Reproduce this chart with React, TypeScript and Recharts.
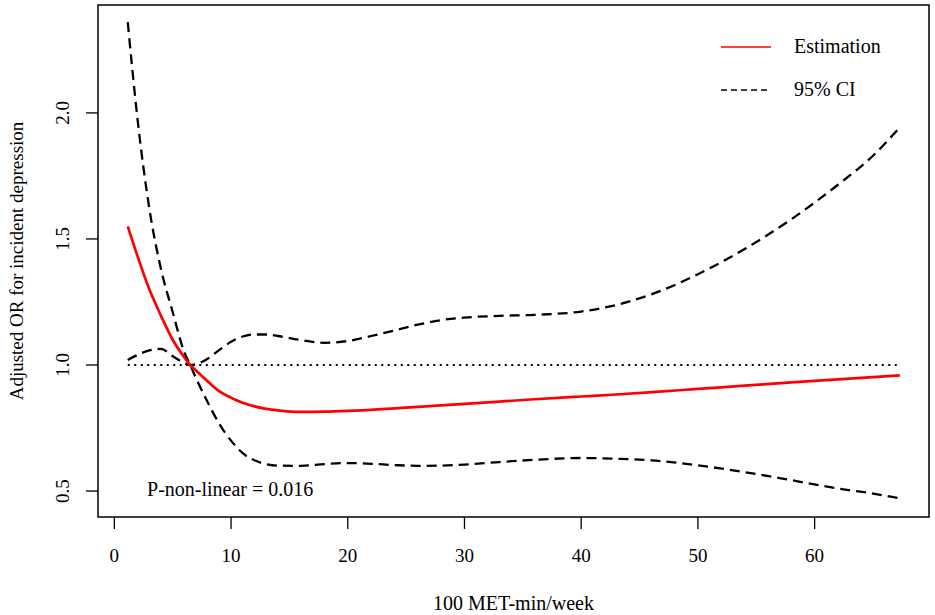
import React from 'react';
import {
  LineChart,
  Line,
  XAxis,
  YAxis,
  ReferenceLine,
  ReferenceArea,
  ReferenceDot,
  Label,
} from 'recharts';

// 100 MET-min/week
const xs = [1.15, 2, 3, 4, 5, 6, 6.5, 7, 8, 9, 10, 11, 12, 13, 14, 16, 18, 20, 22, 24, 26, 28, 30, 33, 36, 40, 43, 46, 50, 54, 58, 62, 65, 67.3];
const estimation = [1.55, 1.43, 1.3, 1.195, 1.1, 1.03, 1.0, 0.978, 0.935, 0.895, 0.87, 0.85, 0.836, 0.826, 0.82, 0.814, 0.815, 0.818, 0.822, 0.828, 0.834, 0.84, 0.846, 0.855, 0.864, 0.875, 0.883, 0.892, 0.905, 0.918, 0.931, 0.943, 0.952, 0.959];
const ciA = [2.36, 1.97, 1.62, 1.38, 1.21, 1.05, 1.0, 0.948, 0.852, 0.766, 0.7, 0.65, 0.622, 0.607, 0.601, 0.6, 0.607, 0.611, 0.608, 0.603, 0.6, 0.601, 0.605, 0.615, 0.624, 0.631, 0.628, 0.622, 0.602, 0.575, 0.543, 0.51, 0.49, 0.471];
const ciB = [1.02, 1.04, 1.058, 1.064, 1.035, 1.008, 1.0, 1.003, 1.025, 1.06, 1.092, 1.113, 1.121, 1.121, 1.115, 1.099, 1.088, 1.095, 1.115, 1.137, 1.16, 1.178, 1.188, 1.195, 1.199, 1.212, 1.238, 1.28, 1.36, 1.46, 1.578, 1.715, 1.83, 1.943];

const xTicks = [0, 10, 20, 30, 40, 50, 60];
const yTicks = [0.5, 1.0, 1.5, 2.0];
const xDomain: [number, number] = [-1.4, 69.8];
const yDomain: [number, number] = [0.397, 2.428];

const data = xs.map((x, i) => ({ x, est: estimation[i], lo: ciA[i], hi: ciB[i] }));

const FONT = '"Liberation Serif", "Times New Roman", serif';

const XTick = ({ x, y, payload }: any) => (
  <text x={x} y={y + 18} textAnchor="middle" dominantBaseline="central" fontSize={19} fontFamily={FONT} fill="#000">
    {payload.value}
  </text>
);

const YTick = ({ x, y, payload }: any) => (
  <text
    x={x - 15}
    y={y}
    textAnchor="middle"
    dominantBaseline="central"
    fontSize={19}
    fontFamily={FONT}
    fill="#000"
    transform={`rotate(-90, ${x - 15}, ${y})`}
  >
    {Number(payload.value).toFixed(1)}
  </text>
);

const LegendBox = () => (
  <div style={{ position: 'absolute', left: 721, top: 25, fontFamily: FONT, fontSize: 20, color: '#000' }}>
    <div style={{ display: 'flex', alignItems: 'center', height: 43 }}>
      <svg width={50} height={10} style={{ marginRight: 23 }}>
        <line x1={0} y1={5} x2={50} y2={5} stroke="#ff0000" strokeWidth={1.5} />
      </svg>
      <span>Estimation</span>
    </div>
    <div style={{ display: 'flex', alignItems: 'center', height: 43 }}>
      <svg width={50} height={10} style={{ marginRight: 23 }}>
        <line x1={0} y1={5} x2={50} y2={5} stroke="#000" strokeWidth={1.5} strokeDasharray="6 4" />
      </svg>
      <span>95% CI</span>
    </div>
  </div>
);

export default function App() {
  return (
    <div style={{ position: 'absolute', left: 0, top: 0, width: 935, height: 615, background: '#fff' }}>
      <LineChart width={935} height={615} data={data} margin={{ top: 5, right: 6, left: 0, bottom: 0 }}>
        <XAxis
          dataKey="x"
          type="number"
          domain={xDomain}
          ticks={xTicks}
          allowDataOverflow
          axisLine={false}
          tickLine={{ stroke: '#000', strokeWidth: 1.3 }}
          tickSize={12}
          tickMargin={8}
          height={98}
          tick={<XTick />}
        >
          <Label
            content={({ viewBox }: any) => (
              <text
                x={viewBox.x + viewBox.width / 2}
                y={viewBox.y + 86}
                textAnchor="middle"
                dominantBaseline="central"
                fontSize={20}
                fontFamily={FONT}
                fill="#000"
              >
                100 MET-min/week
              </text>
            )}
          />
        </XAxis>
        <YAxis
          type="number"
          domain={yDomain}
          ticks={yTicks}
          allowDataOverflow
          axisLine={false}
          tickLine={{ stroke: '#000', strokeWidth: 1.3 }}
          tickSize={12}
          tickMargin={8}
          width={98}
          tick={<YTick />}
        >
          <Label
            content={({ viewBox }: any) => {
              const cx = 16;
              const cy = viewBox.y + viewBox.height / 2;
              return (
                <text
                  x={cx}
                  y={cy}
                  textAnchor="middle"
                  dominantBaseline="central"
                  fontSize={19}
                  fontFamily={FONT}
                  fill="#000"
                  transform={`rotate(-90, ${cx}, ${cy})`}
                >
                  Adjusted OR for incident depression
                </text>
              );
            }}
          />
        </YAxis>
        <ReferenceArea
          x1={xDomain[0]}
          x2={xDomain[1]}
          y1={yDomain[0]}
          y2={yDomain[1]}
          fill="none"
          stroke="#000"
          strokeWidth={1.5}
          ifOverflow="visible"
        />
        <ReferenceLine
          segment={[{ x: xs[0], y: 1 }, { x: xs[xs.length - 1], y: 1 }]}
          stroke="#000"
          strokeWidth={2}
          strokeDasharray="2 4.5"
        />
        <Line type="monotone" dataKey="lo" stroke="#000" strokeWidth={2.3} strokeDasharray="10 6" dot={false} isAnimationActive={false} />
        <Line type="monotone" dataKey="hi" stroke="#000" strokeWidth={2.3} strokeDasharray="10 6" dot={false} isAnimationActive={false} />
        <Line type="monotone" dataKey="est" stroke="#ff0000" strokeWidth={2.7} dot={false} isAnimationActive={false} />
        <ReferenceDot
          x={2.8}
          y={0.51}
          r={0}
          fill="none"
          stroke="none"
          label={(props: any) => (
            <text x={props.viewBox.x} y={props.viewBox.y} dominantBaseline="central" fontSize={20} fontFamily={FONT} fill="#000">
              P-non-linear = 0.016
            </text>
          )}
        />
      </LineChart>
      <LegendBox />
    </div>
  );
}
